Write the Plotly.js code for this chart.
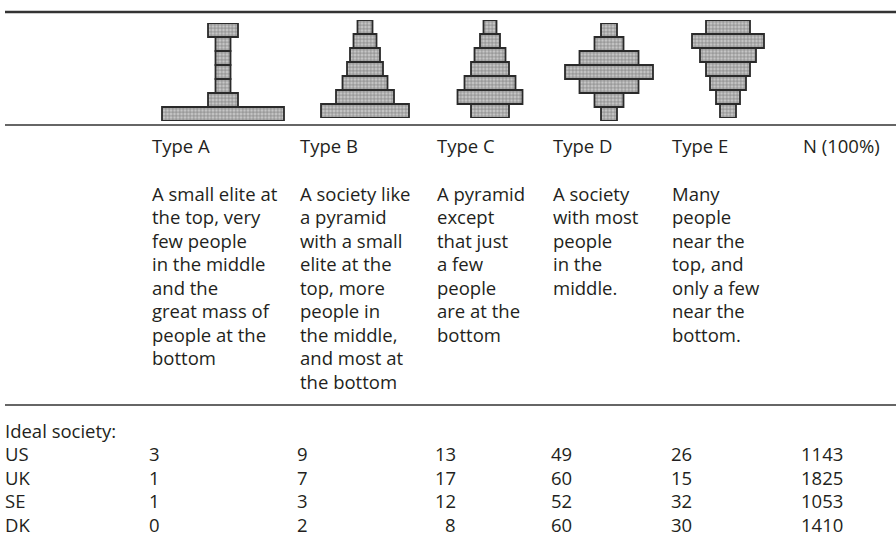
<!DOCTYPE html>
<html><head><meta charset="utf-8">
<script src="https://cdn.plot.ly/plotly-3.0.1.min.js"></script>
<style>html,body{margin:0;padding:0;background:#fff}#chart{width:896px;height:539px}</style>
</head><body><div id="chart"></div>
<script>
// ---- data ----
const types = ["Type A", "Type B", "Type C", "Type D", "Type E"];
const nHeader = "N (100%)";
const descA = ["A small elite at", "the top, very", "few people", "in the middle", "and the", "great mass of", "people at the", "bottom"];
const descB = ["A society like", "a pyramid", "with a small", "elite at the", "top, more", "people in", "the middle,", "and most at", "the bottom"];
const descC = ["A pyramid", "except", "that just", "a few", "people", "are at the", "bottom"];
const descD = ["A society", "with most", "people", "in the", "middle."];
const descE = ["Many", "people", "near the", "top, and", "only a few", "near the", "bottom."];
const sectionLabel = "Ideal society:";
const countries = ["US", "UK", "SE", "DK"];
const typeA = [3, 1, 1, 0];
const typeB = [9, 7, 3, 2];
const typeC = [13, 17, 12, 8];
const typeD = [49, 60, 52, 60];
const typeE = [26, 15, 32, 30];
const nTotal = [1143, 1825, 1053, 1410];
// pyramid icon row widths, top row first
const pyrA = [30, 15, 15, 15, 15, 30, 122];
const pyrB = [15, 23, 30, 36, 45, 58, 88];
const pyrC = [13, 20, 31, 38, 51, 65, 38];
const pyrD = [16, 29, 59, 88, 59, 29, 16];
const pyrE = [44, 72, 56, 44, 36, 24, 16];

// ---- layout constants ----
const W = 896, H = 539;
const X = px => px / W, Y = py => 1 - py / H;
const FONT = {family: "Open Sans, sans-serif", size: 18.5, color: "#231f20"};
const colLeft = [150, 298, 435, 551, 670, 801];
const colRight = [162, 310, 458, 574, 694, 845];
const iconCenter = [223, 365, 490, 609, 728];
const iconTop = [23, 20, 20, 23, 20];
const iconH = 98, iconHalf = 66;
const headerY = 145, descY0 = 193, lineStep = 23.5;
const sectionY = 430, rowY0 = 453.5, rowStep = 23.5;

const pyramids = [pyrA, pyrB, pyrC, pyrD, pyrE];
const traces = [];
const layout = {
  width: W, height: H, margin: {l: 0, r: 0, t: 0, b: 0},
  paper_bgcolor: "#fff", plot_bgcolor: "rgba(0,0,0,0)",
  showlegend: false, bargap: 0,
  annotations: [], shapes: []
};
pyramids.forEach((rows, i) => {
  const k = i + 1;
  const xa = "xaxis" + (k === 1 ? "" : k), ya = "yaxis" + (k === 1 ? "" : k);
  layout[xa] = {domain: [X(iconCenter[i] - iconHalf), X(iconCenter[i] + iconHalf)], range: [-iconHalf, iconHalf], visible: false, fixedrange: true, anchor: "y" + (k === 1 ? "" : k)};
  layout[ya] = {domain: [Y(iconTop[i] + iconH), Y(iconTop[i])], range: [rows.length - 0.5, -0.5], visible: false, fixedrange: true, anchor: "x" + (k === 1 ? "" : k)};
  traces.push({
    type: "bar", orientation: "h",
    x: rows, y: rows.map((_, j) => j), base: rows.map(w => -w / 2), width: 1,
    xaxis: "x" + (k === 1 ? "" : k), yaxis: "y" + (k === 1 ? "" : k),
    marker: {color: "#c2c2c2", line: {color: "#2a2a2a", width: 1.8},
             pattern: {shape: "+", fgcolor: "#7d7d7d", bgcolor: "#c6c6c6", size: 3.5, solidity: 0.35}},
    hoverinfo: "skip"
  });
});

function txt(text, x, y, anchor) {
  layout.annotations.push({text: text, x: X(x), y: Y(y), xref: "paper", yref: "paper",
    xanchor: anchor || "left", yanchor: "middle", showarrow: false, font: FONT});
}
types.forEach((t, i) => txt(t, colLeft[i], headerY));
txt(nHeader, colLeft[5], headerY);
[descA, descB, descC, descD, descE].forEach((lines, i) =>
  lines.forEach((l, j) => txt(l, colLeft[i], descY0 + j * lineStep)));
txt(sectionLabel, 3, sectionY);
const cols = [typeA, typeB, typeC, typeD, typeE, nTotal];
countries.forEach((c, r) => {
  const y = rowY0 + r * rowStep;
  txt(c, 3, y);
  cols.forEach((vals, ci) => txt(String(vals[r]), colRight[ci], y, "right"));
});

function rule(py, w) {
  layout.shapes.push({type: "line", xref: "paper", yref: "paper", x0: X(5), x1: 1, y0: Y(py), y1: Y(py),
    line: {color: "#333", width: w}});
}
rule(12, 2.5); rule(125, 1.5); rule(405, 1.5);

Plotly.newPlot("chart", traces, layout, {staticPlot: true, displayModeBar: false});
</script></body></html>
